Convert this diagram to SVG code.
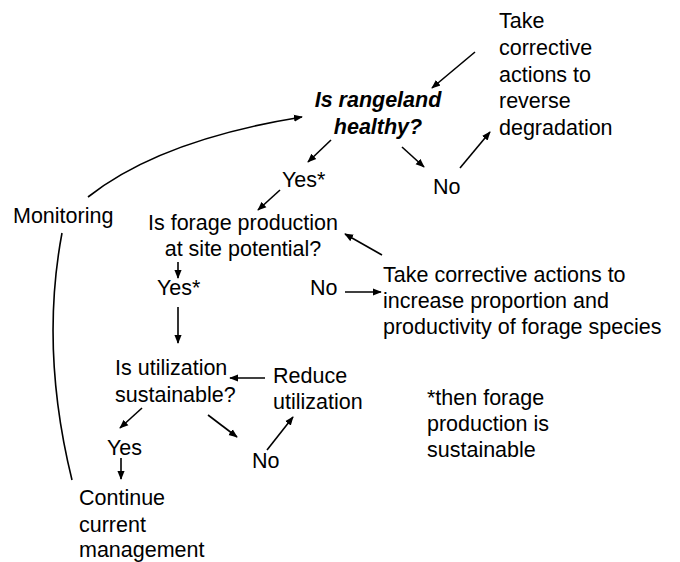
<svg xmlns="http://www.w3.org/2000/svg" width="680" height="562" viewBox="0 0 680 562">
<style>
text{font-family:"Liberation Sans",Arial,sans-serif;font-size:21.5px;fill:#000}
.q{font-weight:bold;font-style:italic}
.c{stroke:#000;stroke-width:1.6;fill:none}
</style>
<defs>
<marker id="a" viewBox="0 0 10 10" refX="9" refY="5" markerWidth="9" markerHeight="9" markerUnits="userSpaceOnUse" orient="auto">
<path d="M0,1 L10,5 L0,9 Z" fill="#000"/>
</marker>
</defs>
<rect width="680" height="562" fill="#fff"/>
<g id="connectors">
<line class="c" x1="475" y1="52" x2="432" y2="88" marker-end="url(#a)"/>
<line class="c" x1="402" y1="147" x2="424" y2="167" marker-end="url(#a)"/>
<line class="c" x1="460" y1="168" x2="490" y2="132" marker-end="url(#a)"/>
<line class="c" x1="331" y1="140" x2="308" y2="162" marker-end="url(#a)"/>
<line class="c" x1="280" y1="190" x2="258" y2="210" marker-end="url(#a)"/>
<line class="c" x1="178" y1="262" x2="178" y2="278" marker-end="url(#a)"/>
<line class="c" x1="178" y1="307" x2="178" y2="343" marker-end="url(#a)"/>
<line class="c" x1="345" y1="292" x2="381" y2="292" marker-end="url(#a)"/>
<line class="c" x1="382" y1="255" x2="345" y2="234" marker-end="url(#a)"/>
<line class="c" x1="265" y1="378" x2="230" y2="378" marker-end="url(#a)"/>
<line class="c" x1="142" y1="408" x2="120" y2="428" marker-end="url(#a)"/>
<line class="c" x1="208" y1="415" x2="237" y2="437" marker-end="url(#a)"/>
<line class="c" x1="267" y1="450" x2="293" y2="417" marker-end="url(#a)"/>
<line class="c" x1="121" y1="458" x2="121" y2="479" marker-end="url(#a)"/>
<path class="c" d="M88,197 Q160,140 302,117" marker-end="url(#a)"/>
<path class="c" d="M62,233 Q40,350 72,480"/>
</g>
<g id="n-healthy"><text class="q" x="378" y="107" text-anchor="middle">Is rangeland</text><text class="q" x="378" y="134" text-anchor="middle">healthy?</text></g>
<g id="n-take1"><text x="499" y="28">Take</text><text x="499" y="55">corrective</text><text x="499" y="82">actions to</text><text x="499" y="108">reverse</text><text x="499" y="135">degradation</text></g>
<g id="n-no1"><text x="433" y="194">No</text></g>
<g id="n-yes1"><text x="282" y="187">Yes*</text></g>
<g id="n-monitoring"><text x="13" y="223">Monitoring</text></g>
<g id="n-forage"><text x="243" y="230" text-anchor="middle">Is forage production</text><text x="243" y="256" text-anchor="middle">at site potential?</text></g>
<g id="n-yes2"><text x="157" y="295">Yes*</text></g>
<g id="n-no2"><text x="310" y="295">No</text></g>
<g id="n-take2"><text x="383" y="282">Take corrective actions to</text><text x="383" y="308">increase proportion and</text><text x="383" y="334">productivity of forage species</text></g>
<g id="n-util"><text x="115" y="375">Is utilization</text><text x="115" y="402">sustainable?</text></g>
<g id="n-reduce"><text x="273" y="383">Reduce</text><text x="273" y="409">utilization</text></g>
<g id="n-yes3"><text x="107" y="455">Yes</text></g>
<g id="n-no3"><text x="252" y="468">No</text></g>
<g id="n-continue"><text x="79" y="505">Continue</text><text x="79" y="532">current</text><text x="79" y="557">management</text></g>
<g id="n-note"><text x="427" y="405">*then forage</text><text x="427" y="431">production is</text><text x="427" y="457">sustainable</text></g>
</svg>
